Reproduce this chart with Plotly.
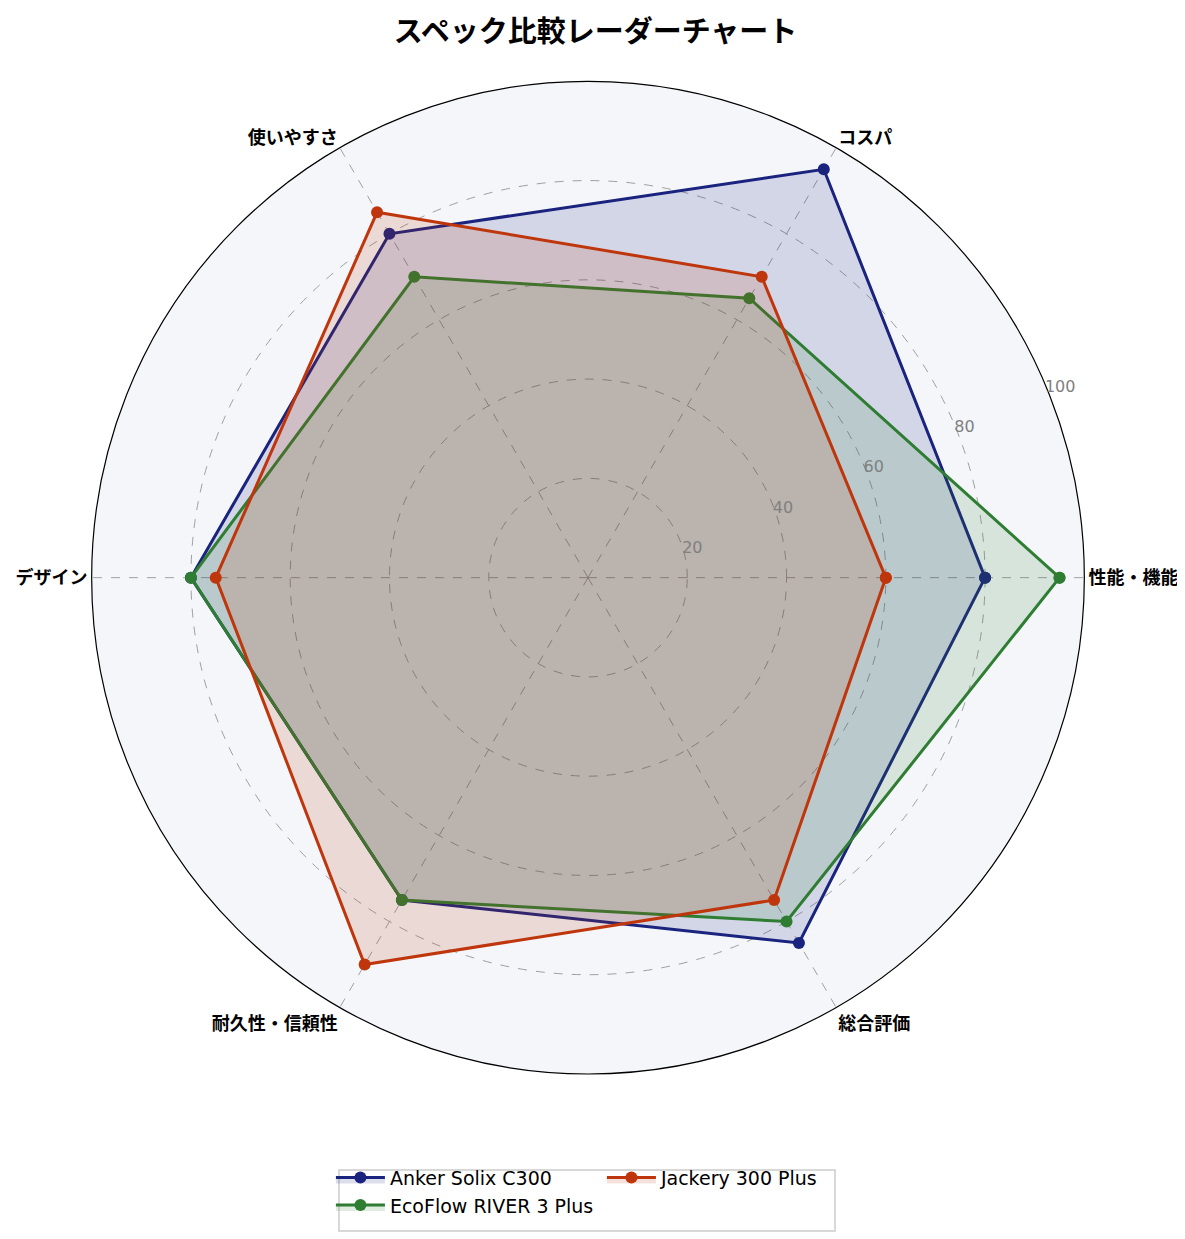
import plotly.graph_objects as go

# # Data
categories = ['性能・機能', 'コスパ', '使いやすさ', 'デザイン', '耐久性・信頼性', '総合評価']
anker = [80, 95, 80, 80, 75, 85]
ecoflow = [95, 65, 70, 80, 75, 80]
jackery = [60, 70, 85, 75, 90, 75]
names = ['Anker Solix C300', 'EcoFlow RIVER 3 Plus', 'Jackery 300 Plus']
colors = ['#1a237e', '#2e7d32', '#bf360c']
fills = ['rgba(26,35,126,0.15)', 'rgba(46,125,50,0.15)', 'rgba(191,54,12,0.15)']
legends = ['legend', 'legend', 'legend2']

fig = go.Figure()

for vals, name, col, fc, lg in zip([anker, ecoflow, jackery], names, colors, fills, legends):
    fig.add_trace(
        go.Scatterpolar(
            r=vals + vals[:1],
            theta=categories + categories[:1],
            mode='lines+markers',
            name=name,
            line=dict(color=col, width=3),
            marker=dict(color=col, size=12),
            fill='toself',
            fillcolor=fc,
            legend=lg
        )
    )

legend_font = dict(size=19, family='DejaVu Sans', color='black')

fig.update_layout(
    width=1185, height=1239,
    paper_bgcolor='white',
    margin=dict(l=0, r=0, t=0, b=0),
    font=dict(family='Noto Sans CJK JP', color='black'),
    title=dict(text='<b>スペック比較レーダーチャート</b>', x=0.4958, xanchor='center',
               y=0.981, yanchor='middle', font=dict(size=29, color='black')),
    polar=dict(
        domain=dict(x=[0.07005, 0.90885], y=[0.13964, 0.94084]),
        bgcolor='#f4f6fa',
        radialaxis=dict(range=[0, 100], tickvals=[20, 40, 60, 80, 100], angle=24,
                        tickangle=24, side='clockwise', showline=False, ticks='',
                        tickfont=dict(size=16, color='#808080', family='DejaVu Sans'),
                        gridcolor='#a0a0a0', griddash='dash', gridwidth=0.8),
        angularaxis=dict(rotation=0, direction='counterclockwise', showline=True,
                         linecolor='black', linewidth=1.2, ticks='',
                         tickfont=dict(size=18, color='black', family='Noto Sans CJK JP', weight='bold'),
                         gridcolor='#a0a0a0', griddash='dash', gridwidth=0.8)
    ),
    legend=dict(x=0.2725, y=0.0714, xanchor='left', yanchor='top', bgcolor='rgba(0,0,0,0)',
                font=legend_font, itemwidth=49, tracegroupgap=0),
    legend2=dict(x=0.5012, y=0.0714, xanchor='left', yanchor='top', bgcolor='rgba(0,0,0,0)',
                 font=legend_font, itemwidth=49),
    shapes=[dict(type='rect', xref='paper', yref='paper', x0=0.2793, x1=0.6979, y0=0.0129, y1=0.0621,
                 line=dict(color='#cccccc', width=1.5), fillcolor='rgba(0,0,0,0)')]
)

fig.write_html('out.html')
